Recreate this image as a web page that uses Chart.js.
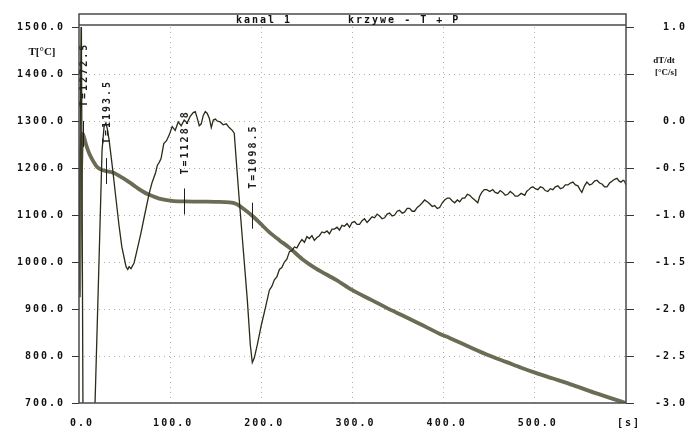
<!DOCTYPE html>
<html><head><meta charset="utf-8">
<script src="https://cdn.jsdelivr.net/npm/chart.js@4/dist/chart.umd.min.js"></script>
<style>html,body{margin:0;padding:0;background:#fff}#wrap{width:697px;height:432px}</style>
</head><body><div id="wrap"><canvas id="c" width="697" height="432"></canvas></div>
<script>
// Temperature curve T [°C] vs time [s]
const tempTimes = [0,1,2,3,4,6,8,11,14,17,20,25,30,38,47,55,63,70,77,88,102,115,130,150,165,172,180,190,200,209,220,231,245,260,282,300,320,337,355,374,396,407,432,450,469,485,501,520,542,565,590,600];
const tempValues = [925,1040,1170,1245,1272.5,1262,1248,1232,1220,1210,1202,1196,1193.5,1190,1180,1170,1159,1150,1143,1135,1130,1128.8,1128.5,1128,1127,1124,1114,1098.5,1080,1063,1046,1030,1006,986,962,940,920,903,886,868,847,838,816,801,787,775,764,752,738,722,706,700];
// Derivative dT/dt [°C/s] vs time [s]
const rateTimes = [0,2.5,4.5,17.6,21.5,25.3,27.5,29.5,31,33,37,40.7,44,47,51.6,53.5,55,57,60.4,64,68,72,77,80,84,86,88,90,93,96,98.9,102.2,105.5,108.8,112.1,115.4,118.7,122,125.3,127.5,129.7,131.9,134.1,136.3,138.5,140.7,142.9,145.1,147.3,149.5,151.6,154.9,158.2,161.5,164.8,168.1,170.3,172.5,175.8,180.2,184.6,187.9,190.1,192.3,195.6,200,204.4,208.8,211.5,214.3,217,219.8,222.5,225.3,228,230.8,233.5,236.3,239,241.8,244.5,247.3,250,252.7,255.5,258.2,261,263.7,266.5,269.2,272,274.7,277.5,280.2,283,285.7,288.5,291.2,294,296.7,299.5,302.2,305,307.7,310.5,313.2,316,318.7,321.5,324.2,327,329.7,332.5,335.2,338,340.7,343.5,346.2,349,351.6,354.5,357.1,360,362.6,365.5,368.1,371,373.6,376.5,379.1,382,384.6,387.5,390.1,393,395.6,398.5,401.1,404,406.6,409.5,412.1,415,417.6,420.5,423.1,426,428.6,431.5,434.1,437.4,439.5,441.8,444.5,447.3,450.5,453.8,456.5,459.3,462,464.8,467.5,470.3,473,475.8,478.5,481.3,485,489,491,493.4,495.5,497.8,500.5,503.3,506,508.8,511.5,514.3,517,519.8,522.5,525.3,528,530.8,533.5,536.3,539,541.8,544.5,547.3,549.5,551.6,554.5,557.1,560,562.6,565.5,568.1,571,573.6,576.5,579.1,582,584.6,587.5,590.1,592.5,594.5,596.7,598.5,600];
const rateValues = [-1.80,1.30,-3.40,-3.00,-1.65,-0.31,-0.06,-0.02,-0.08,-0.20,-0.52,-0.84,-1.12,-1.34,-1.55,-1.58,-1.55,-1.57,-1.51,-1.36,-1.19,-1.00,-0.77,-0.66,-0.55,-0.47,-0.44,-0.40,-0.24,-0.21,-0.15,-0.06,-0.10,-0.01,-0.05,0.01,-0.02,0.05,0.09,0.10,0.03,-0.05,-0.03,0.06,0.10,0.08,0.03,-0.07,0.01,0.02,0.00,-0.01,-0.04,-0.03,-0.07,-0.10,-0.13,-0.42,-0.84,-1.37,-1.90,-2.38,-2.57,-2.52,-2.38,-2.17,-1.99,-1.80,-1.76,-1.69,-1.66,-1.58,-1.56,-1.50,-1.47,-1.39,-1.38,-1.34,-1.35,-1.30,-1.26,-1.29,-1.23,-1.25,-1.22,-1.27,-1.24,-1.22,-1.18,-1.19,-1.17,-1.20,-1.15,-1.15,-1.13,-1.16,-1.11,-1.12,-1.09,-1.13,-1.08,-1.07,-1.10,-1.10,-1.06,-1.04,-1.08,-1.05,-1.02,-1.03,-0.99,-1.01,-1.04,-1.03,-0.99,-0.98,-1.01,-1.00,-0.96,-0.95,-0.98,-0.97,-0.93,-0.93,-0.96,-0.96,-0.92,-0.90,-0.87,-0.84,-0.86,-0.88,-0.91,-0.90,-0.93,-0.92,-0.87,-0.84,-0.82,-0.82,-0.85,-0.87,-0.84,-0.86,-0.82,-0.82,-0.78,-0.79,-0.82,-0.84,-0.87,-0.80,-0.76,-0.73,-0.73,-0.75,-0.73,-0.76,-0.77,-0.74,-0.76,-0.79,-0.78,-0.75,-0.77,-0.80,-0.80,-0.77,-0.79,-0.75,-0.73,-0.71,-0.70,-0.72,-0.73,-0.70,-0.71,-0.74,-0.75,-0.72,-0.73,-0.70,-0.69,-0.72,-0.71,-0.68,-0.68,-0.66,-0.65,-0.68,-0.69,-0.73,-0.76,-0.69,-0.65,-0.68,-0.67,-0.64,-0.63,-0.66,-0.67,-0.70,-0.70,-0.66,-0.64,-0.62,-0.61,-0.64,-0.65,-0.63,-0.64,-0.68];
// Marked points
const markTimes = [4,30,115,190];
const markTemps = [1272.5,1193.5,1128.8,1098.5];
// Axis tick values
const xTicks = [0,100,200,300,400,500,600];
const leftTicks = [700,800,900,1000,1100,1200,1300,1400,1500];
const rightTicks = [-3,-2.5,-2,-1.5,-1,-0.5,0,0.5,1];
const headerLeft = 'kanal 1';
const headerRight = 'krzywe - T + P';

const MONO = 'bold 10px "DejaVu Sans Mono"';
const LS = '2px';

const decor = {
  id: 'decor',
  beforeUpdate(c){ c.ctx.letterSpacing = LS; },
  beforeLayout(c){ c.ctx.letterSpacing = LS; },
  beforeDraw(c){ const ctx=c.ctx; ctx.letterSpacing = LS; ctx.save(); ctx.fillStyle='#fff'; ctx.fillRect(0,0,c.width,c.height); ctx.restore(); },
  afterDatasetsDraw(c){
    const ctx=c.ctx, xs=c.scales.x, ys=c.scales.y;
    ctx.save();
    ctx.strokeStyle='#1e1e1e'; ctx.fillStyle='#1e1e1e'; ctx.lineWidth=1;
    ctx.font=MONO; ctx.letterSpacing=LS;
    markTimes.forEach((t,i)=>{
      const x=Math.round(xs.getPixelForValue(t))+0.5, y=ys.getPixelForValue(markTemps[i]);
      ctx.beginPath(); ctx.moveTo(x,y-13); ctx.lineTo(x,y+13); ctx.stroke();
      ctx.save(); ctx.translate(x+0.5,y-27); ctx.rotate(-Math.PI/2);
      ctx.textAlign='left'; ctx.textBaseline='middle';
      ctx.fillText('T='+markTemps[i].toFixed(1),0,0); ctx.restore();
    });
    ctx.restore();
  },
  afterDraw(c){
    const ctx=c.ctx, a=c.chartArea;
    ctx.save();
    const top=14;
    ctx.strokeStyle='#777'; ctx.lineWidth=2;
    ctx.beginPath(); ctx.moveTo(a.left,25); ctx.lineTo(a.right,25); ctx.stroke();
    ctx.strokeStyle='#4a4a4a'; ctx.lineWidth=1.5;
    ctx.strokeRect(a.left, top, a.right-a.left, a.bottom-top);
    ctx.fillStyle='#111'; ctx.font=MONO; ctx.letterSpacing=LS;
    ctx.textAlign='left'; ctx.textBaseline='middle';
    ctx.fillText(headerLeft,236,20);
    ctx.fillText(headerRight,348,20);
    ctx.letterSpacing='0px';
    ctx.font='bold 11px "Liberation Serif"'; ctx.textAlign='center';
    ctx.fillText('T[°C]',42,52);
    ctx.font='bold 9px "Liberation Serif"';
    ctx.fillText('dT/dt',664,61);
    ctx.fillText('[°C/s]',666,73);
    ctx.restore();
  }
};

const gridCol = '#b0b0a8';
new Chart(document.getElementById('c'), {
  type: 'line',
  data: {
    datasets: [
      { label:'dT/dt', yAxisID:'y2', data: rateTimes.map((t,i)=>({x:t,y:rateValues[i]})),
        borderColor:'#2b2b18', borderWidth:1.3, pointRadius:0, tension:0 },
      { label:'T', yAxisID:'y', data: tempTimes.map((t,i)=>({x:t,y:tempValues[i]})),
        borderColor:'#6c6c55', borderWidth:3.8, pointRadius:0, tension:0.3 }
    ]
  },
  options: {
    responsive:false, animation:false,
    layout:{ padding:{ top:27, right:10, left:0, bottom:0 } },
    plugins:{ legend:{display:false}, tooltip:{enabled:false}, title:{display:false} },
    scales: {
      x: { type:'linear', min:0, max:600,
        afterBuildTicks(s){ s.ticks = xTicks.map(v=>({value:v})); },
        afterFit(s){ s.height = 29; },
        ticks:{ font:{family:'DejaVu Sans Mono',weight:'bold',size:10}, color:'#111', padding:14, maxRotation:0, autoSkip:false, labelOffset:3,
          callback:(v)=> v===600 ? '[s]' : Number(v).toFixed(1) },
        grid:{ drawTicks:false, color:(ctx)=> (ctx.tick && (ctx.tick.value===0||ctx.tick.value===600)) ? 'rgba(0,0,0,0)' : gridCol },
        border:{ display:false, dash:[1,4] } },
      y: { position:'left', min:700, max:1500,
        afterBuildTicks(s){ s.ticks = leftTicks.map(v=>({value:v})); },
        afterFit(s){ s.width = 79; },
        ticks:{ font:{family:'DejaVu Sans Mono',weight:'bold',size:10}, color:'#111', padding:7, autoSkip:false,
          callback:(v)=> Number(v).toFixed(1) },
        grid:{ tickLength:7, tickColor:'#333', tickWidth:1,
          color:(ctx)=> (ctx.tick && (ctx.tick.value===700||ctx.tick.value===1500)) ? 'rgba(0,0,0,0)' : gridCol },
        border:{ display:false, dash:[1,4] } },
      y2: { position:'right', min:-3, max:1,
        afterBuildTicks(s){ s.ticks = rightTicks.map(v=>({value:v})); },
        afterFit(s){ s.width = 61; },
        ticks:{ font:{family:'DejaVu Sans Mono',weight:'bold',size:10}, color:'#111', padding:8, crossAlign:'far', autoSkip:false,
          callback:(v)=> v===0.5 ? '' : Number(v).toFixed(1) },
        grid:{ drawOnChartArea:false, tickLength:8, tickColor:'#333', tickWidth:1, color:'rgba(0,0,0,0)' },
        border:{ display:false } }
    }
  },
  plugins:[decor]
});
</script>
</body></html>
